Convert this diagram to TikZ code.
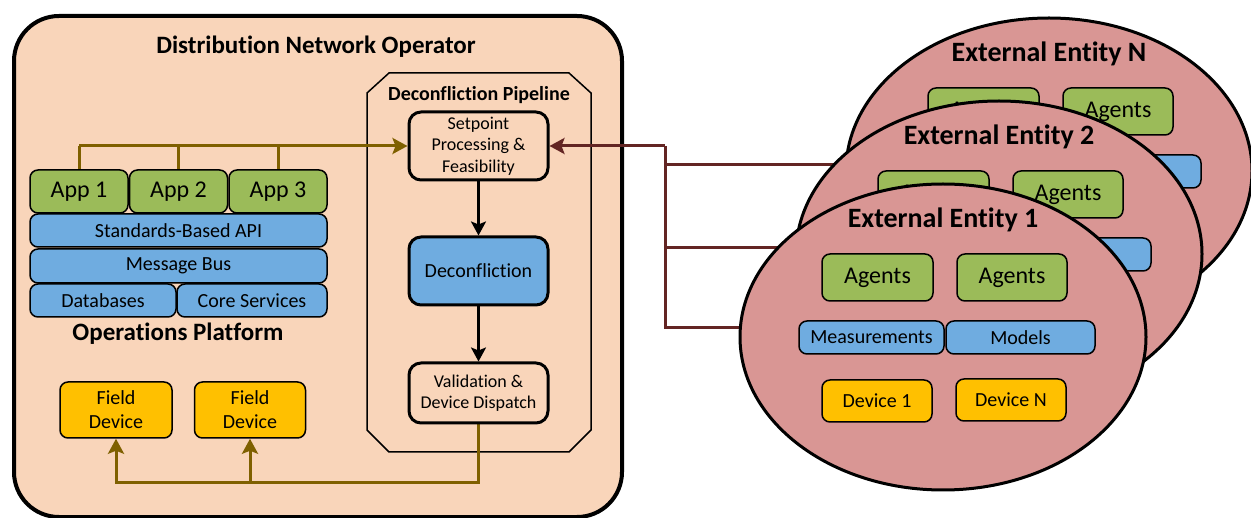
\documentclass[tikz,border=0pt]{standalone}
\usepackage{fontspec}
\setmainfont{Carlito}[Ligatures=NoCommon]
\usetikzlibrary{arrows.meta,shapes.geometric}
\definecolor{peach}{HTML}{F9D5BA}
\definecolor{ent}{HTML}{D99694}
\definecolor{cgreen}{HTML}{9BBB59}
\definecolor{cblue}{HTML}{6FACE0}
\definecolor{corange}{HTML}{FFC000}
\definecolor{olive}{HTML}{7F6000}
\definecolor{dred}{HTML}{632523}
\pgfdeclarelayer{back}\pgfdeclarelayer{mid}\pgfsetlayers{back,mid,main}
\newcommand\fsz[2]{\fontsize{#1}{#2}\selectfont}
\newcommand\drawentity[4]{%
  \node[entell] (e#1) at (#2,#3) {};
  \begin{scope}[shift={(#2,#3)}]
    \node[enttitle] (e#1t) at (0,-117) {#4};
    \node[greenbox, minimum width=111pt, minimum height=47pt, font=\fsz{24}{28}] (e#1a) at (-65.5,-59.5) {Agents};
    \node[greenbox, minimum width=110pt, minimum height=47pt, font=\fsz{24}{28}] (e#1b) at (69,-59.5) {Agents};
    \node[bluebox, minimum width=145pt, minimum height=33pt, font=\fsz{20}{24}] (e#1m) at (-71.5,0.5) {Measurements};
    \node[bluebox, minimum width=149pt, minimum height=33pt, font=\fsz{20}{24}] (e#1o) at (77.5,0.5) {Models};
    \node[orangebox, minimum width=110pt, minimum height=42pt, font=\fsz{20}{24}] (e#1d) at (-66,64) {Device 1};
    \node[orangebox, minimum width=110pt, minimum height=42pt, font=\fsz{20}{24}] (e#1n) at (68,63) {Device N};
  \end{scope}}
\begin{document}
\begin{tikzpicture}[x=1pt,y=-1pt,
  box/.style={draw=black, rounded corners=8pt, line width=1.5pt, inner sep=0pt, align=center},
  greenbox/.style={box, fill=cgreen},
  bluebox/.style={box, fill=cblue},
  orangebox/.style={box, fill=corange},
  pipebox/.style={draw=black, rounded corners=12pt, line width=3pt, inner sep=0pt, align=center, minimum width=139pt},
  entell/.style={ellipse, draw=black, line width=3pt, fill=ent, minimum width=406pt, minimum height=306pt, inner sep=0pt},
  enttitle/.style={inner sep=0pt, font=\bfseries\fsz{28}{32}},
  heading/.style={inner sep=0pt, font=\bfseries\fsz{25}{29}},
  tip/.style={-{Stealth[length=15pt,width=16pt,inset=3pt]}},
  olconn/.style={draw=olive, line width=3pt},
  olarrow/.style={olconn, tip},
  rdconn/.style={draw=dred, line width=3pt},
  blarrow/.style={draw=black, line width=2.5pt, -{Stealth[length=14pt,width=15pt,inset=3pt]}}
]
\useasboundingbox (0,0) rectangle (1251,518);

\begin{pgfonlayer}{back}
\node[draw=black, line width=4pt, fill=peach, rounded corners=45pt, minimum width=608pt, minimum height=501pt, anchor=north west, inner sep=0pt] (dno) at (12,14) {};
\draw[line width=1.5pt] (389,73) -- (569,73) -- (591,93) -- (591,430) -- (569,452) -- (389,452) -- (367,430) -- (367,93) -- cycle;
\end{pgfonlayer}

\node[heading] (dnot) at (316,47) {Distribution Network Operator};
\node[inner sep=0pt, font=\bfseries\fsz{20}{24}] (dpt) at (479,95) {Deconfliction Pipeline};

% pipeline
\node[pipebox, fill=peach, minimum height=68pt, font=\fsz{18}{21.5}] (sp) at (478.5,146) {Setpoint\\Processing \&\\Feasibility};
\node[pipebox, fill=cblue, minimum height=68pt, font=\fsz{20}{24}] (dc) at (478.5,271) {Deconfliction};
\node[pipebox, fill=peach, minimum height=60pt, font=\fsz{18}{21.5}] (val) at (478.5,393) {Validation \&\\Device Dispatch};
\draw[blarrow] (sp.south) -- (dc.north);
\draw[blarrow] (dc.south) -- (val.north);

% operations platform
\node[greenbox, minimum width=98pt, minimum height=43pt, font=\fsz{24}{28}] (a1) at (79,191.5) {App 1};
\node[greenbox, minimum width=98pt, minimum height=43pt, font=\fsz{24}{28}] (a2) at (178.5,191.5) {App 2};
\node[greenbox, minimum width=98pt, minimum height=43pt, font=\fsz{24}{28}] (a3) at (278,191.5) {App 3};
\node[bluebox, minimum width=297pt, minimum height=33pt, font=\fsz{20}{24}] (api) at (178.5,230.5) {Standards-Based API};
\node[bluebox, minimum width=297pt, minimum height=34pt, font=\fsz{20}{24}] (bus) at (178.5,266) {Message Bus};
\node[bluebox, minimum width=146pt, minimum height=33pt, font=\fsz{20}{24}] (db) at (103,300.5) {Databases};
\node[bluebox, minimum width=150pt, minimum height=33pt, font=\fsz{20}{24}] (cs) at (252,300.5) {Core Services};
\node[heading] (opt) at (178,334) {Operations Platform};

\node[orangebox, minimum width=112pt, minimum height=56pt, font=\fsz{20}{24}] (fd1) at (116,410) {Field\\Device};
\node[orangebox, minimum width=111pt, minimum height=56pt, font=\fsz{20}{24}] (fd2) at (250,410) {Field\\Device};

% olive connectors
\begin{pgfonlayer}{mid}
\draw[olconn] (a1.north) -- (a1.north |- sp.west);
\draw[olconn] (a2.north) -- (a2.north |- sp.west);
\draw[olconn] (a3.north) -- (a3.north |- sp.west);
\draw[olarrow] (a1.north |- sp.west) -- (sp.west);
\coordinate (olb) at (480,483);
\draw[olarrow] (val.south) -- (val.south |- olb) -| (fd1.south);
\draw[olarrow] (fd2.south |- olb) -- (fd2.south);
\end{pgfonlayer}

% external entities
\drawentity{N}{1049}{171}{External Entity N}
\drawentity{2}{999}{254}{External Entity 2}
\drawentity{1}{943}{337}{External Entity 1}

% red connectors
\coordinate (rt) at (665,146);
\coordinate (rN) at (665,165);
\coordinate (r2) at (665,248);
\coordinate (rb) at (665,328);
\begin{pgfonlayer}{mid}
\draw[rdconn, tip] (rt) -- (sp.east);
\draw[rdconn] (rt) -- (rb) -- (rb -| e1.west);
\draw[rdconn] (rN) -- (rN -| eN.west);
\draw[rdconn] (r2) -- (r2 -| e2.west);
\end{pgfonlayer}
\end{tikzpicture}
\end{document}
